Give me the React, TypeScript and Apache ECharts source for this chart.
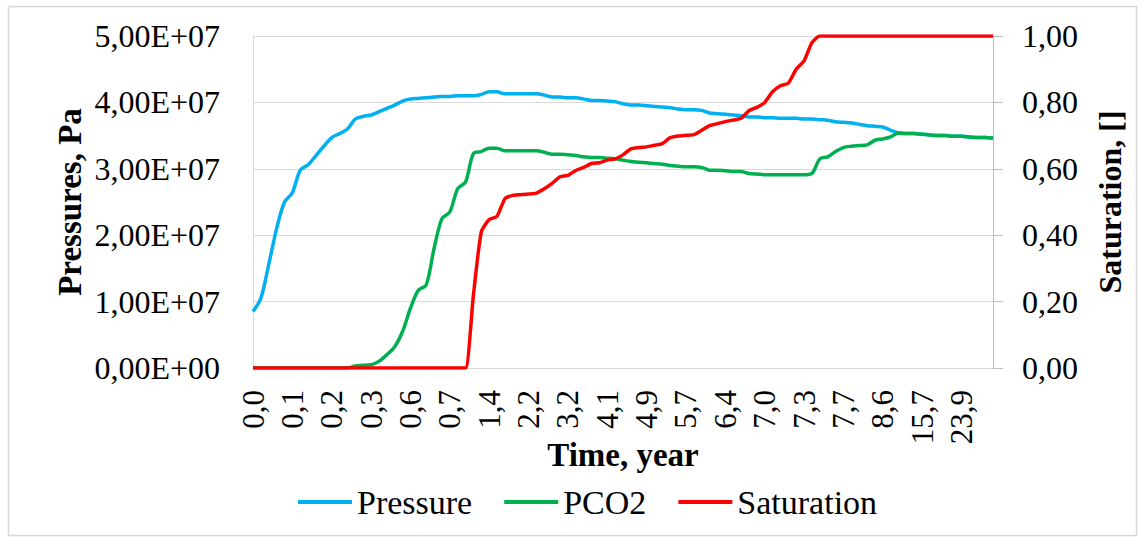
import React, { useEffect, useRef } from "react";
import * as echarts from "echarts";

const timeYears: number[] = [
  0.0, 0.02, 0.04, 0.06, 0.08, 0.1, 0.12, 0.14, 0.16, 0.18,
  0.2, 0.22, 0.24, 0.26, 0.28, 0.3, 0.36, 0.42, 0.48, 0.54,
  0.6, 0.62, 0.64, 0.66, 0.68, 0.7, 0.84, 0.98, 1.12, 1.26,
  1.4, 1.56, 1.72, 1.88, 2.04, 2.2, 2.4, 2.6, 2.8, 3.0,
  3.2, 3.38, 3.56, 3.74, 3.92, 4.1, 4.26, 4.42, 4.58, 4.74,
  4.9, 5.06, 5.22, 5.38, 5.54, 5.7, 5.84, 5.98, 6.12, 6.26,
  6.4, 6.52, 6.64, 6.76, 6.88, 7.0, 7.06, 7.12, 7.18, 7.24,
  7.3, 7.38, 7.46, 7.54, 7.62, 7.7, 7.88, 8.06, 8.24, 8.42,
  8.6, 10.0, 11.4, 12.8, 14.2, 15.7, 17.3, 18.9, 20.5, 22.1,
  23.9, 25.5, 27.1, 28.7, 30.3,
];

const pressurePa: number[] = [
  0.85e7, 1.05e7, 1.56e7, 2.1e7, 2.5e7, 2.64e7, 2.98e7, 3.06e7, 3.2e7, 3.34e7,
  3.47e7, 3.53e7, 3.6e7, 3.75e7, 3.79e7, 3.81e7, 3.86e7, 3.91e7, 3.96e7, 4.02e7,
  4.05e7, 4.06e7, 4.07e7, 4.08e7, 4.09e7, 4.09e7, 4.1e7, 4.1e7, 4.1e7, 4.12e7,
  4.16e7, 4.16e7, 4.13e7, 4.13e7, 4.13e7, 4.13e7, 4.13e7, 4.11e7, 4.08e7, 4.08e7,
  4.07e7, 4.07e7, 4.05e7, 4.03e7, 4.03e7, 4.02e7, 4.01e7, 3.98e7, 3.96e7, 3.96e7,
  3.95e7, 3.94e7, 3.93e7, 3.92e7, 3.9e7, 3.89e7, 3.89e7, 3.88e7, 3.84e7, 3.83e7,
  3.82e7, 3.81e7, 3.8e7, 3.78e7, 3.78e7, 3.77e7, 3.77e7, 3.76e7, 3.76e7, 3.76e7,
  3.75e7, 3.75e7, 3.74e7, 3.73e7, 3.71e7, 3.7e7, 3.69e7, 3.67e7, 3.65e7, 3.64e7,
  3.63e7, 3.58e7, 3.54e7, 3.53e7, 3.53e7, 3.52e7, 3.51e7, 3.5e7, 3.5e7, 3.49e7,
  3.49e7, 3.48e7, 3.47e7, 3.47e7, 3.46e7,
];

const pco2Pa: number[] = [
  0, 0, 0, 0, 0, 0, 0, 0, 0, 0,
  0, 0, 0, 0.03e7, 0.04e7, 0.05e7, 0.1e7, 0.2e7, 0.32e7, 0.55e7,
  0.9e7, 1.17e7, 1.25e7, 1.8e7, 2.25e7, 2.35e7, 2.7e7, 2.8e7, 3.23e7, 3.26e7,
  3.31e7, 3.31e7, 3.27e7, 3.27e7, 3.27e7, 3.27e7, 3.27e7, 3.25e7, 3.22e7, 3.22e7,
  3.21e7, 3.2e7, 3.18e7, 3.17e7, 3.17e7, 3.16e7, 3.15e7, 3.13e7, 3.11e7, 3.1e7,
  3.09e7, 3.08e7, 3.07e7, 3.05e7, 3.04e7, 3.03e7, 3.03e7, 3.02e7, 2.98e7, 2.98e7,
  2.97e7, 2.96e7, 2.96e7, 2.93e7, 2.92e7, 2.91e7, 2.91e7, 2.91e7, 2.91e7, 2.91e7,
  2.91e7, 2.93e7, 3.15e7, 3.18e7, 3.26e7, 3.32e7, 3.34e7, 3.35e7, 3.36e7, 3.43e7,
  3.45e7, 3.48e7, 3.54e7, 3.53e7, 3.53e7, 3.52e7, 3.51e7, 3.5e7, 3.5e7, 3.49e7,
  3.49e7, 3.48e7, 3.47e7, 3.47e7, 3.46e7,
];

const saturation: number[] = [
  0, 0, 0, 0, 0, 0, 0, 0, 0, 0,
  0, 0, 0, 0, 0, 0, 0, 0, 0, 0,
  0, 0, 0, 0, 0, 0, 0, 0, 0.22, 0.41,
  0.447, 0.457, 0.51, 0.52, 0.522, 0.524, 0.527, 0.54, 0.556, 0.576,
  0.58, 0.595, 0.604, 0.616, 0.618, 0.626, 0.63, 0.642, 0.66, 0.664,
  0.666, 0.671, 0.676, 0.694, 0.699, 0.701, 0.703, 0.716, 0.73, 0.736,
  0.742, 0.747, 0.752, 0.775, 0.785, 0.8, 0.832, 0.85, 0.858, 0.9,
  0.925, 0.98, 1, 1, 1, 1, 1, 1, 1, 1,
  1, 1, 1, 1, 1, 1, 1, 1, 1, 1,
  1, 1, 1, 1, 1,
];

const seriesNames = ["Pressure", "PCO2", "Saturation"];
const seriesColors = ["#00B0F0", "#00B050", "#FF0000"];

const FONT = "'Liberation Serif', 'DejaVu Serif', serif";

function fmtPa(v: number): string {
  if (v === 0) return "0,00E+00";
  const exp = Math.floor(Math.log10(Math.abs(v)) + 1e-9);
  const mant = v / Math.pow(10, exp);
  return mant.toFixed(2).replace(".", ",") + "E+" + String(exp).padStart(2, "0");
}

export default function App() {
  const ref = useRef<HTMLDivElement>(null);
  useEffect(() => {
    if (!ref.current) return;
    const chart = echarts.init(ref.current, undefined, { renderer: "svg" });
    const categories = timeYears.map((t) => t.toFixed(1).replace(".", ","));
    chart.setOption({
      animation: false,
      backgroundColor: "#FFFFFF",
      textStyle: { fontFamily: FONT },
      graphic: [
        {
          type: "rect",
          shape: { x: 8.5, y: 6.5, width: 1128, height: 529 },
          style: { fill: "none", stroke: "#D9D9D9", lineWidth: 1.5 },
          silent: true,
        },
      ],
      grid: { left: 253, right: 151, top: 36, bottom: 173, containLabel: false },
      legend: {
        left: 293,
        top: 480,
        itemWidth: 54,
        itemHeight: 4,
        itemGap: 32,
        icon: "rect",
        textStyle: { fontFamily: FONT, fontSize: 34, color: "#000" },
        data: seriesNames,
      },
      xAxis: {
        type: "category",
        data: categories,
        boundaryGap: false,
        name: "Time, year",
        nameLocation: "middle",
        nameGap: 70,
        nameMoveOverlap: false,
        nameTextStyle: { fontFamily: FONT, fontSize: 33, fontWeight: "bold", color: "#000" },
        axisLine: { lineStyle: { color: "#D9D9D9", width: 1 } },
        axisTick: { show: false },
        axisLabel: {
          interval: 4,
          rotate: 90,
          margin: 22,
          fontFamily: FONT,
          fontSize: 31,
          color: "#000",
        },
        splitLine: { show: false },
      },
      yAxis: [
        {
          type: "value",
          min: 0,
          max: 5e7,
          interval: 1e7,
          name: "Pressures, Pa",
          nameLocation: "middle",
          nameRotate: 90,
          nameGap: 167,
          nameMoveOverlap: false,
          nameTextStyle: { fontFamily: FONT, fontSize: 33, fontWeight: "bold", color: "#000" },
          axisLine: { show: true, lineStyle: { color: "#D9D9D9", width: 1 } },
          axisTick: { show: false },
          axisLabel: {
            margin: 33,
            fontFamily: FONT,
            fontSize: 32,
            color: "#000",
            formatter: (v: number) => fmtPa(v),
          },
          splitLine: { show: true, lineStyle: { color: "#D9D9D9", width: 1 } },
        },
        {
          type: "value",
          min: 0,
          max: 1,
          interval: 0.2,
          position: "right",
          name: "Saturation, []",
          nameLocation: "middle",
          nameRotate: 90,
          nameGap: 101,
          nameMoveOverlap: false,
          nameTextStyle: { fontFamily: FONT, fontSize: 32, fontWeight: "bold", color: "#000" },
          axisLine: { show: true, lineStyle: { color: "#BFBFBF", width: 1 } },
          axisTick: { show: true, length: 10, lineStyle: { color: "#BFBFBF" } },
          axisLabel: {
            margin: 29,
            fontFamily: FONT,
            fontSize: 32,
            color: "#000",
            formatter: (v: number) => v.toFixed(2).replace(".", ","),
          },
          splitLine: { show: false },
        },
      ],
      series: [
        {
          name: seriesNames[0],
          type: "line",
          yAxisIndex: 0,
          data: pressurePa,
          showSymbol: false,
          smooth: 0.3,
          lineStyle: { width: 3.5, color: seriesColors[0] },
          itemStyle: { color: seriesColors[0] },
        },
        {
          name: seriesNames[1],
          type: "line",
          yAxisIndex: 0,
          data: pco2Pa,
          showSymbol: false,
          smooth: 0.3,
          lineStyle: { width: 3.5, color: seriesColors[1] },
          itemStyle: { color: seriesColors[1] },
        },
        {
          name: seriesNames[2],
          type: "line",
          yAxisIndex: 1,
          data: saturation,
          showSymbol: false,
          smooth: 0.2,
          lineStyle: { width: 3.5, color: seriesColors[2] },
          itemStyle: { color: seriesColors[2] },
        },
      ],
    });
    return () => chart.dispose();
  }, []);
  return (
    <div
      ref={ref}
      style={{ position: "absolute", left: 0, top: 0, width: 1144, height: 541 }}
    />
  );
}
